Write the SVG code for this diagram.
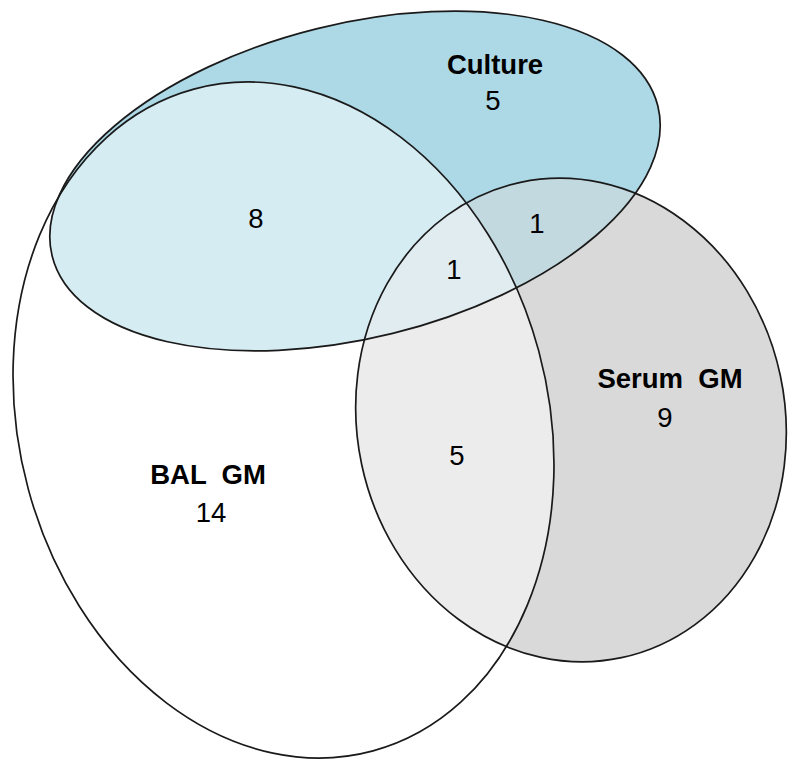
<svg xmlns="http://www.w3.org/2000/svg" xmlns:xlink="http://www.w3.org/1999/xlink" width="800" height="771" viewBox="0 0 800 771">
  <style>
    .outline { fill: none; stroke: #1a1a1a; stroke-width: 1.7; }
    .lbl { font-family: "Liberation Sans", Arial, sans-serif; font-size: 27.5px; font-weight: bold; fill: #000; text-anchor: middle; white-space: pre; }
    .num { font-family: "Liberation Sans", Arial, sans-serif; font-size: 27.5px; fill: #000; text-anchor: middle; }
  </style>
  <defs>
    <ellipse id="e-bal" cx="0" cy="0" rx="264.4" ry="342.8" transform="translate(283.5 420) rotate(-15.15)"/>
    <ellipse id="e-culture" cx="0" cy="0" rx="312" ry="157" transform="translate(355 181) rotate(-13.9)"/>
    <ellipse id="e-serum" cx="0" cy="0" rx="214" ry="243" transform="translate(571 420) rotate(-12)"/>
  </defs>
  <rect width="800" height="771" fill="#ffffff"/>
  <g id="fills">
    <use xlink:href="#e-serum" href="#e-serum" fill="#d9d9d9"/>
    <use xlink:href="#e-culture" href="#e-culture" fill="#add8e6"/>
    <use xlink:href="#e-serum" href="#e-serum" fill="#d9d9d9" fill-opacity="0.5"/>
    <use xlink:href="#e-bal" href="#e-bal" fill="#ffffff" fill-opacity="0.5"/>
  </g>
  <g id="node-bal-gm">
    <use xlink:href="#e-bal" href="#e-bal" class="outline"/>
    <text class="lbl" x="208" y="484" xml:space="preserve">BAL  GM</text>
    <text class="num" x="211" y="522">14</text>
  </g>
  <g id="node-culture">
    <use xlink:href="#e-culture" href="#e-culture" class="outline"/>
    <text class="lbl" x="495" y="74">Culture</text>
    <text class="num" x="493" y="110">5</text>
  </g>
  <g id="node-serum-gm">
    <use xlink:href="#e-serum" href="#e-serum" class="outline"/>
    <text class="lbl" x="670" y="388" xml:space="preserve">Serum  GM</text>
    <text class="num" x="665" y="427">9</text>
  </g>
  <g id="intersections">
    <text class="num" x="256" y="228">8</text>
    <text class="num" x="537" y="233">1</text>
    <text class="num" x="454" y="279">1</text>
    <text class="num" x="457" y="465">5</text>
  </g>
  <g id="connectors"/>
</svg>
